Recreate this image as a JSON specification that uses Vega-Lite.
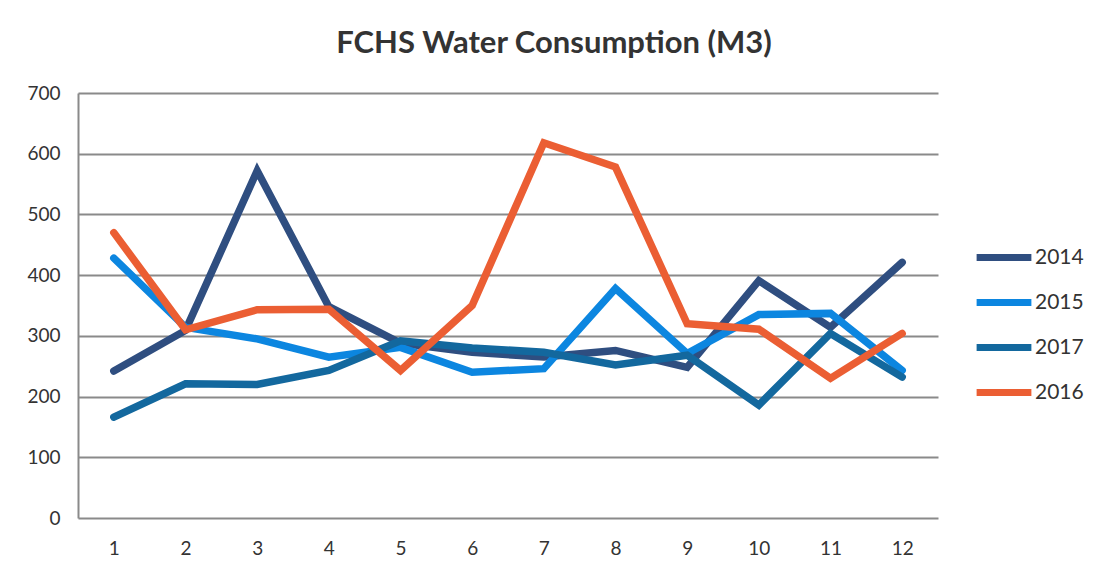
{
  "$schema": "https://vega.github.io/schema/vega-lite/v6.json",
  "autosize": {"type": "none"},
  "width": 860,
  "height": 425,
  "padding": {"left": 78, "top": 93, "right": 172, "bottom": 64},
  "background": "white",
  "title": {
    "text": "FCHS Water Consumption (M3)",
    "font": "Lato",
    "fontSize": 31,
    "fontWeight": "bold",
    "color": "#333333",
    "anchor": "middle",
    "dx": 46,
    "offset": 24
  },
  "data": {
    "values": [
      {"month": 1, "year": "2014", "value": 242},
      {"month": 2, "year": "2014", "value": 309},
      {"month": 3, "year": "2014", "value": 572},
      {"month": 4, "year": "2014", "value": 348},
      {"month": 5, "year": "2014", "value": 288},
      {"month": 6, "year": "2014", "value": 273},
      {"month": 7, "year": "2014", "value": 265},
      {"month": 8, "year": "2014", "value": 276},
      {"month": 9, "year": "2014", "value": 248},
      {"month": 10, "year": "2014", "value": 391},
      {"month": 11, "year": "2014", "value": 314},
      {"month": 12, "year": "2014", "value": 421},
      {"month": 1, "year": "2015", "value": 428},
      {"month": 2, "year": "2015", "value": 314},
      {"month": 3, "year": "2015", "value": 295},
      {"month": 4, "year": "2015", "value": 265},
      {"month": 5, "year": "2015", "value": 281},
      {"month": 6, "year": "2015", "value": 240},
      {"month": 7, "year": "2015", "value": 246},
      {"month": 8, "year": "2015", "value": 378},
      {"month": 9, "year": "2015", "value": 271},
      {"month": 10, "year": "2015", "value": 335},
      {"month": 11, "year": "2015", "value": 337},
      {"month": 12, "year": "2015", "value": 243},
      {"month": 1, "year": "2017", "value": 166},
      {"month": 2, "year": "2017", "value": 221},
      {"month": 3, "year": "2017", "value": 220},
      {"month": 4, "year": "2017", "value": 243},
      {"month": 5, "year": "2017", "value": 292},
      {"month": 6, "year": "2017", "value": 280},
      {"month": 7, "year": "2017", "value": 273},
      {"month": 8, "year": "2017", "value": 252},
      {"month": 9, "year": "2017", "value": 268},
      {"month": 10, "year": "2017", "value": 186},
      {"month": 11, "year": "2017", "value": 304},
      {"month": 12, "year": "2017", "value": 232},
      {"month": 1, "year": "2016", "value": 470},
      {"month": 2, "year": "2016", "value": 310},
      {"month": 3, "year": "2016", "value": 343},
      {"month": 4, "year": "2016", "value": 344},
      {"month": 5, "year": "2016", "value": 243},
      {"month": 6, "year": "2016", "value": 350},
      {"month": 7, "year": "2016", "value": 618},
      {"month": 8, "year": "2016", "value": 578},
      {"month": 9, "year": "2016", "value": 320},
      {"month": 10, "year": "2016", "value": 311},
      {"month": 11, "year": "2016", "value": 230},
      {"month": 12, "year": "2016", "value": 304}
    ]
  },
  "mark": {"type": "line", "strokeWidth": 7.5, "strokeCap": "round", "strokeJoin": "miter"},
  "encoding": {
    "x": {
      "field": "month",
      "type": "ordinal",
      "scale": {"type": "point", "padding": 0.5},
      "axis": {
        "title": null,
        "labelAngle": 0,
        "labelFont": "Lato",
        "labelFontSize": 19,
        "labelColor": "#333333",
        "labelPadding": 21,
        "ticks": false,
        "domain": false,
        "grid": false
      }
    },
    "y": {
      "field": "value",
      "type": "quantitative",
      "scale": {"domain": [0, 700], "nice": false},
      "axis": {
        "title": null,
        "values": [0, 100, 200, 300, 400, 500, 600, 700],
        "labelFont": "Lato",
        "labelFontSize": 19,
        "labelColor": "#333333",
        "labelPadding": 18,
        "ticks": false,
        "domain": true,
        "domainColor": "#8a8a8a",
        "domainWidth": 2,
        "grid": true,
        "gridColor": "#8a8a8a",
        "gridWidth": 2
      }
    },
    "color": {
      "field": "year",
      "type": "nominal",
      "sort": ["2014", "2015", "2017", "2016"],
      "scale": {
        "domain": ["2014", "2015", "2017", "2016"],
        "range": ["#2f4e80", "#0c86e0", "#13689e", "#eb5e33"]
      },
      "legend": {
        "title": null,
        "orient": "none",
        "legendX": 895,
        "legendY": 142,
        "symbolType": "stroke",
        "symbolSize": 3000,
        "symbolStrokeWidth": 7,
        "clipHeight": 45,
        "rowPadding": 0,
        "labelOffset": 0,
        "labelFont": "Lato",
        "labelFontSize": 21,
        "labelColor": "#333333"
      }
    }
  },
  "config": {
    "view": {"stroke": null}
  }
}
